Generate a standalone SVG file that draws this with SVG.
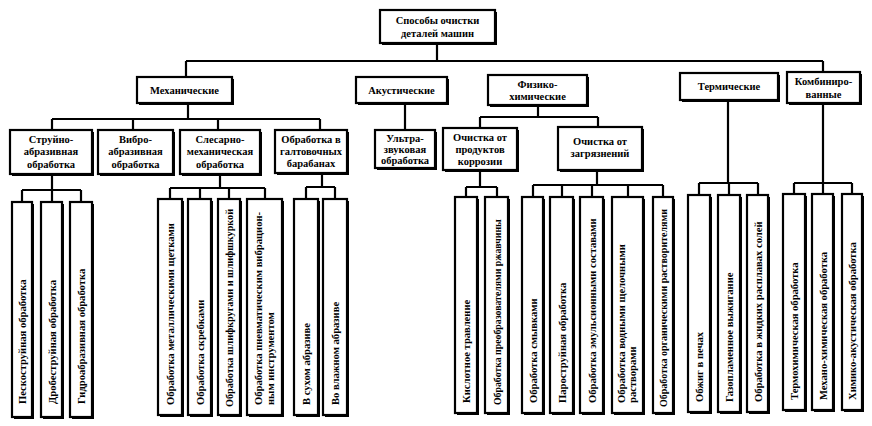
<svg xmlns="http://www.w3.org/2000/svg" width="872" height="426" viewBox="0 0 872 426">
<style>
.s{fill:#000}
.b{fill:#fff;stroke:#000;stroke-width:2.2}
.t{font-family:"Liberation Serif","Times New Roman",serif;font-weight:bold;font-size:10.5px;text-anchor:middle;fill:#000}
.v{font-family:"Liberation Serif","Times New Roman",serif;font-weight:bold;font-size:10.6px;text-anchor:start;fill:#000}
.n{font-size:9.8px}
.c{fill:none;stroke:#000;stroke-width:2.2}
</style>
<rect width="872" height="426" fill="#fff"/>
<g id="connectors">
<path class="c" d="M437 43V61 M186 61H823 M186 61V77 M823 61V72
M188 103V119 M52 119H320 M52 119V130 M133 119V130 M218 119V130 M320 119V130
M405 103V130
M538 105V117 M480 117H598 M480 117V128 M598 117V127
M728 100V183 M823 103V183
M52 175V190 M22 190H81 M22 190V202 M52 190V202 M81 190V202
M220 175V188 M170 188H265 M170 188V199 M200 188V199 M229 188V199 M265 188V199
M322 174V187 M306 187H335 M306 187V199 M335 187V199
M480 170V187 M466 187H497 M466 187V197 M497 187V197
M597 170V185 M533 185H663 M533 185V197 M562 185V197 M592 185V197 M628 185V197 M663 185V197
M699 183H758 M699 183V195 M729 183V195 M758 183V195
M794 183H852 M794 183V194 M823 183V194 M852 183V194"/>
</g>
<g id="root"><rect class="s" x="382" y="12" width="115" height="33"/><rect class="b" x="380" y="10" width="115" height="33"/><text class="t" x="437.5" y="24">Способы очистки</text><text class="t" x="437.5" y="37">деталей машин</text></g>
<g id="mech"><rect class="s" x="139" y="79" width="95" height="26"/><rect class="b" x="137" y="77" width="95" height="26"/><text class="t" x="184.5" y="94">Механические</text></g>
<g id="acoustic"><rect class="s" x="358" y="79" width="91" height="26"/><rect class="b" x="356" y="77" width="91" height="26"/><text class="t" x="401.5" y="94">Акустические</text></g>
<g id="physchem"><rect class="s" x="490" y="77" width="99" height="30"/><rect class="b" x="488" y="75" width="99" height="30"/><text class="t" x="537.5" y="88">Физико-</text><text class="t" x="537.5" y="100">химические</text></g>
<g id="thermal"><rect class="s" x="682" y="75" width="98" height="27"/><rect class="b" x="680" y="73" width="98" height="27"/><text class="t" x="729" y="90">Термические</text></g>
<g id="combined"><rect class="s" x="789" y="74" width="73" height="31"/><rect class="b" x="787" y="72" width="73" height="31"/><text class="t" x="823.5" y="85">Комбиниро-</text><text class="t" x="823.5" y="98">ванные</text></g>

<g id="jet"><rect class="s" x="12" y="132" width="82" height="44"/><rect class="b" x="10" y="130" width="82" height="44"/><text class="t" x="51" y="143">Струйно-</text><text class="t" x="51" y="155">абразивная</text><text class="t" x="51" y="168">обработка</text></g>
<g id="vibro"><rect class="s" x="100" y="132" width="75" height="44"/><rect class="b" x="98" y="130" width="75" height="44"/><text class="t" x="135.5" y="143">Вибро-</text><text class="t" x="135.5" y="155">абразивная</text><text class="t" x="135.5" y="168">обработка</text></g>
<g id="fitter"><rect class="s" x="182" y="132" width="80" height="44"/><rect class="b" x="180" y="130" width="80" height="44"/><text class="t" x="220" y="143">Слесарно-</text><text class="t" x="220" y="155">механическая</text><text class="t" x="220" y="168">обработка</text></g>
<g id="tumbling"><rect class="s" x="277" y="132" width="72" height="43"/><rect class="b" x="275" y="130" width="72" height="43"/><text class="t" x="311" y="143">Обработка в</text><text class="t" x="311" y="155">галтовочных</text><text class="t" x="311" y="167">барабанах</text></g>
<g id="ultrasonic"><rect class="s" x="377" y="132" width="60" height="38"/><rect class="b" x="375" y="130" width="60" height="38"/><text class="t" x="405" y="142">Ультра-</text><text class="t" x="405" y="153">звуковая</text><text class="t" x="405" y="164">обработка</text></g>
<g id="corrosion"><rect class="s" x="445" y="130" width="74" height="42"/><rect class="b" x="443" y="128" width="74" height="42"/><text class="t" x="480" y="141">Очистка от</text><text class="t" x="480" y="153">продуктов</text><text class="t" x="480" y="165">коррозии</text></g>
<g id="dirt"><rect class="s" x="560" y="129" width="84" height="43"/><rect class="b" x="558" y="127" width="84" height="43"/><text class="t" x="600" y="145">Очистка от</text><text class="t" x="600" y="157">загрязнений</text></g>

<g id="l1"><rect class="s" x="14" y="204" width="20" height="215"/><rect class="b" x="12" y="202" width="20" height="215"/><text class="v" transform="translate(26 404) rotate(-90)">Пескоструйная обработка</text></g>
<g id="l2"><rect class="s" x="43" y="204" width="21" height="215"/><rect class="b" x="41" y="202" width="21" height="215"/><text class="v" transform="translate(55.5 404) rotate(-90)">Дробеструйная обработка</text></g>
<g id="l3"><rect class="s" x="72" y="204" width="22" height="215"/><rect class="b" x="70" y="202" width="22" height="215"/><text class="v" transform="translate(85 404) rotate(-90)">Гидроабразивная обработка</text></g>

<g id="l4"><rect class="s" x="160" y="201" width="24" height="216"/><rect class="b" x="158" y="199" width="24" height="216"/><text class="v" transform="translate(174 405) rotate(-90)">Обработка металлическими щетками</text></g>
<g id="l5"><rect class="s" x="190" y="201" width="23" height="216"/><rect class="b" x="188" y="199" width="23" height="216"/><text class="v" transform="translate(203.5 405) rotate(-90)">Обработка скребками</text></g>
<g id="l6"><rect class="s" x="220" y="201" width="22" height="216"/><rect class="b" x="218" y="199" width="22" height="216"/><text class="v n" transform="translate(233 407) rotate(-90)" textLength="198" lengthAdjust="spacingAndGlyphs">Обработка шлифкругами и шлифшкуркой</text></g>
<g id="l7"><rect class="s" x="249" y="201" width="35" height="216"/><rect class="b" x="247" y="199" width="35" height="216"/><text class="v" transform="translate(262 405) rotate(-90)">Обработка пневматическим вибрацион-</text><text class="v" transform="translate(274 405) rotate(-90)">ным инструментом</text></g>
<g id="l8"><rect class="s" x="296" y="201" width="24" height="216"/><rect class="b" x="294" y="199" width="24" height="216"/><text class="v" transform="translate(310 405) rotate(-90)">В сухом абразиве</text></g>
<g id="l9"><rect class="s" x="325" y="201" width="24" height="216"/><rect class="b" x="323" y="199" width="24" height="216"/><text class="v" transform="translate(339 405) rotate(-90)">Во влажном абразиве</text></g>

<g id="l10"><rect class="s" x="457" y="199" width="22" height="216"/><rect class="b" x="455" y="197" width="22" height="216"/><text class="v" transform="translate(470 403) rotate(-90)">Кислотное травление</text></g>
<g id="l11"><rect class="s" x="487" y="199" width="23" height="216"/><rect class="b" x="485" y="197" width="23" height="216"/><text class="v n" transform="translate(500.5 405) rotate(-90)">Обработка преобразователями ржавчины</text></g>
<g id="l12"><rect class="s" x="524" y="199" width="21" height="216"/><rect class="b" x="522" y="197" width="21" height="216"/><text class="v" transform="translate(536.5 403) rotate(-90)">Обработка смывками</text></g>
<g id="l13"><rect class="s" x="552" y="199" width="23" height="216"/><rect class="b" x="550" y="197" width="23" height="216"/><text class="v" transform="translate(565.5 403) rotate(-90)">Пароструйная обработка</text></g>
<g id="l14"><rect class="s" x="582" y="199" width="23" height="216"/><rect class="b" x="580" y="197" width="23" height="216"/><text class="v" transform="translate(595.5 403) rotate(-90)">Обработка эмульсионными составами</text></g>
<g id="l15"><rect class="s" x="614" y="199" width="31" height="216"/><rect class="b" x="612" y="197" width="31" height="216"/><text class="v" transform="translate(625 403) rotate(-90)">Обработка водными щелочными</text><text class="v" transform="translate(636 403) rotate(-90)">растворами</text></g>
<g id="l16"><rect class="s" x="655" y="199" width="20" height="216"/><rect class="b" x="653" y="197" width="20" height="216"/><text class="v n" transform="translate(667 407) rotate(-90)" textLength="198" lengthAdjust="spacingAndGlyphs">Обработка органическими растворителями</text></g>

<g id="l17"><rect class="s" x="690" y="197" width="22" height="217"/><rect class="b" x="688" y="195" width="22" height="217"/><text class="v" transform="translate(703 402) rotate(-90)">Обжиг в печах</text></g>
<g id="l18"><rect class="s" x="720" y="197" width="22" height="217"/><rect class="b" x="718" y="195" width="22" height="217"/><text class="v" transform="translate(733 402) rotate(-90)">Газопламенное выжигание</text></g>
<g id="l19"><rect class="s" x="749" y="197" width="21" height="217"/><rect class="b" x="747" y="195" width="21" height="217"/><text class="v" transform="translate(761.5 402) rotate(-90)">Обработка в жидких расплавах солей</text></g>
<g id="l20"><rect class="s" x="785" y="196" width="22" height="216"/><rect class="b" x="783" y="194" width="22" height="216"/><text class="v" transform="translate(798 400) rotate(-90)">Термохимическая обработка</text></g>
<g id="l21"><rect class="s" x="814" y="196" width="21" height="216"/><rect class="b" x="812" y="194" width="21" height="216"/><text class="v" transform="translate(826.5 400) rotate(-90)">Механо-химическая обработка</text></g>
<g id="l22"><rect class="s" x="844" y="196" width="20" height="216"/><rect class="b" x="842" y="194" width="20" height="216"/><text class="v" transform="translate(856 400) rotate(-90)">Химико-акустическая обработка</text></g>
</svg>
